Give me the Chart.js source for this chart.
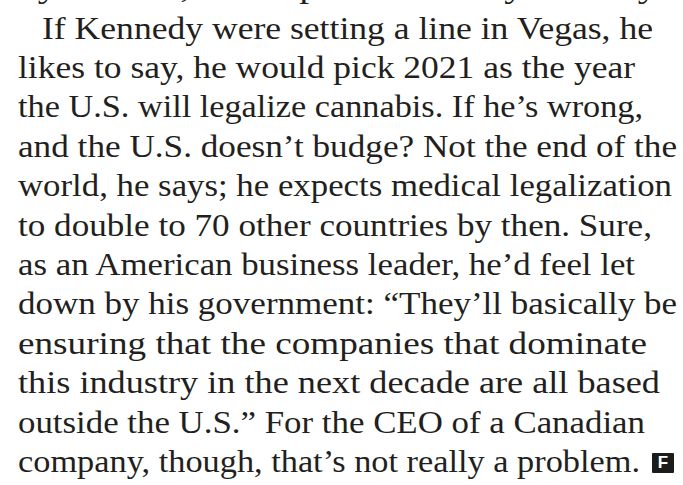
<!DOCTYPE html>
<html>
<head>
<meta charset="utf-8">
<script src="https://cdn.jsdelivr.net/npm/chart.js@4/dist/chart.umd.min.js"></script>
<style>
  html, body { margin: 0; padding: 0; background: #fff; }
  body { width: 683px; height: 485px; overflow: hidden; position: relative; }
  #text { position: absolute; left: 18px; top: 0; font-family: "Liberation Serif", "DejaVu Serif", serif; font-size: 31.5px; color: #231f20; }
  .ln { position: absolute; left: 0; white-space: nowrap; line-height: 1; transform-origin: 0 0; }
  .logo { position: absolute; width: 22px; height: 20px; background: #1c1c1c; color: #fff; font-family: "Liberation Sans", sans-serif; font-weight: bold; font-size: 17px; line-height: 20px; text-align: center; border-radius: 1px; }
  #chartWrap { position: absolute; left: 0; top: 0; width: 1px; height: 1px; opacity: 0; }
</style>
</head>
<body>
<div id="text"></div>
<div id="logo" class="logo">F</div>
<div id="chartWrap"><canvas id="c"></canvas></div>
<script>
// Text lines of the article excerpt (first line is cut off at the top edge)
const lines = [
  "by Cowen, to a reporter in early January.",
  "If Kennedy were setting a line in Vegas, he",
  "likes to say, he would pick 2021 as the year",
  "the U.S. will legalize cannabis. If he\u2019s wrong,",
  "and the U.S. doesn\u2019t budge? Not the end of the",
  "world, he says; he expects medical legalization",
  "to double to 70 other countries by then. Sure,",
  "as an American business leader, he\u2019d feel let",
  "down by his government: \u201cThey\u2019ll basically be",
  "ensuring that the companies that dominate",
  "this industry in the next decade are all based",
  "outside the U.S.\u201d For the CEO of a Canadian",
  "company, though, that\u2019s not really a problem."
];
const indents = [0, 24, 0, 0, 0, 0, 0, 0, 0, 0, 0, 0, 0];
const rightEdges = [665, 653, 635, 643, 677, 672, 652, 635, 677, 647, 660, 645, 640];

const box = document.getElementById('text');
const fs = 31.5, firstBaseline = -0.5, lineGap = 39.4, leftX = 18;
lines.forEach((t, i) => {
  const d = document.createElement('div');
  d.className = 'ln';
  const s = document.createElement('span');
  s.textContent = t;
  d.appendChild(s);
  box.appendChild(d);
  d.style.left = indents[i] + 'px';
  const extra = i === 0 ? -2.5 : 0;
  d.style.top = (firstBaseline + extra + i * lineGap - fs * 0.8375) + 'px';
  const natural = s.getBoundingClientRect().width;
  const target = rightEdges[i] - leftX - indents[i];
  d.style.transform = 'scaleX(' + (target / natural) + ')';
});
const logo = document.getElementById('logo');
logo.style.left = '652px';
logo.style.top = '453px';

new Chart(document.getElementById('c'), {
  type: 'bar',
  data: { labels: [], datasets: [] },
  options: { animation: false, responsive: false, plugins: { legend: { display: false } }, scales: { x: { display: false }, y: { display: false } } }
});
</script>
</body>
</html>
